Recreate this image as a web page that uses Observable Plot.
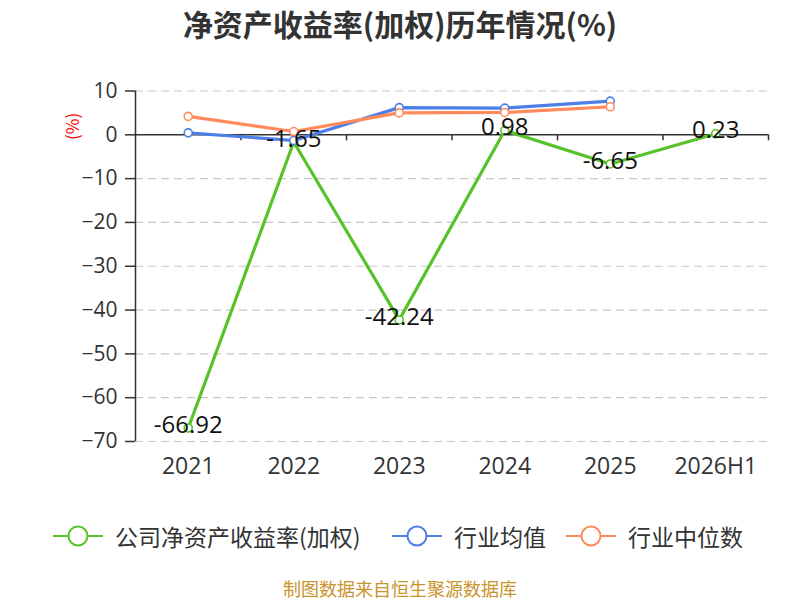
<!DOCTYPE html>
<html>
<head>
<meta charset="utf-8">
<script src="https://cdn.jsdelivr.net/npm/d3@7"></script>
<script src="https://cdn.jsdelivr.net/npm/@observablehq/plot@0.6"></script>
<style>
  body { margin: 0; background: #fff; font-family: "Open Sans", "Noto Sans CJK SC", sans-serif; }
  #wrap { position: relative; width: 800px; height: 600px; overflow: hidden; }
  #chart { position: absolute; left: 0; top: 0; }
  .title { position: absolute; left: 100px; width: 600px; top: 2px; line-height: 42px; text-align: center; font-size: 30px; font-weight: bold; color: #333; font-family: "Noto Sans CJK SC", sans-serif; }
  .unit { position: absolute; left: 59px; top: 114px; width: 26px; height: 26px; color: #f00; font-size: 17px; transform: rotate(-90deg); transform-origin: center; text-align: center; line-height: 26px; font-family: "Noto Sans CJK SC", sans-serif; }
  .leg { position: absolute; top: 521px; height: 30px; line-height: 30px; display: flex; align-items: center; font-size: 23px; color: #333; font-family: "Noto Sans CJK SC", sans-serif; white-space: nowrap; }
  .leg svg { margin-right: 12px; flex: none; }
  .src { position: absolute; left: 250px; width: 300px; top: 578px; height: 20px; line-height: 20px; text-align: center; font-size: 18px; color: #c8942c; font-family: "Noto Sans CJK SC", sans-serif; white-space: nowrap; }
</style>
</head>
<body>
<div id="wrap">
  <div id="chart"></div>
  <div class="title">净资产收益率(加权)历年情况(%)</div>
  <div class="unit">(%)</div>
  <div id="legend"></div>
  <div class="src">制图数据来自恒生聚源数据库</div>
</div>
<script>
const years = ["2021", "2022", "2023", "2024", "2025", "2026H1"];
const company = [-66.92, -1.65, -42.24, 0.98, -6.65, 0.23];
const industryAvg = [0.45, -1.3, 6.2, 6.1, 7.7, null];
const industryMedian = [4.2, 0.75, 5.0, 5.1, 6.4, null];
const seriesNames = ["公司净资产收益率(加权)", "行业均值", "行业中位数"];
const seriesColors = ["#58c22a", "#4d7fe6", "#ff8a5b"];
const yTicks = [10, 0, -10, -20, -30, -40, -50, -60, -70];

const allSeries = [company, industryAvg, industryMedian];
const rows = [];
allSeries.forEach((vals, s) => {
  vals.forEach((v, i) => { if (v != null) rows.push({ i, value: v, series: seriesNames[s] }); });
});
const companyRows = rows.filter(d => d.series === seriesNames[0]);
const boundaries = years.map((_, i) => i + 0.5);

const chart = Plot.plot({
  width: 800,
  height: 600,
  marginLeft: 135,
  marginRight: 32,
  marginTop: 90.5,
  marginBottom: 159,
  style: { fontFamily: "'Open Sans', 'Noto Sans CJK SC', sans-serif", background: "transparent", overflow: "visible" },
  x: { domain: [-0.5, years.length - 0.5] },
  y: { domain: [-70, 10] },
  color: { domain: seriesNames, range: seriesColors },
  marks: [
    Plot.gridY(yTicks.filter(t => t !== 0), { stroke: "#c8c8c8", strokeOpacity: 1, strokeDasharray: "8,5", strokeWidth: 1.2 }),
    Plot.axisY({ ticks: yTicks, tickSize: 10, tickPadding: 8, fontSize: 21, color: "#333", stroke: "#333", strokeWidth: 1.5, label: null }),
    Plot.axisX({ ticks: d3.range(years.length), tickFormat: i => years[i], tickSize: 0, tickPadding: 16, fontSize: 23, color: "#333", label: null }),
    Plot.ruleX([-0.5], { y1: -70, y2: 10, stroke: "#333", strokeWidth: 1.5 }),
    Plot.ruleY([0], { stroke: "#333", strokeWidth: 1.5 }),
    Plot.ruleX(boundaries, { x: d => d, y1: 0, y2: 0, insetBottom: -6, stroke: "#333", strokeWidth: 1.5 }),
    Plot.line(rows, { x: "i", y: "value", stroke: "series", z: "series", strokeWidth: 3.2 }),
    Plot.dot(rows, { x: "i", y: "value", stroke: "series", fill: "white", r: 4, strokeWidth: 1.6 }),
    Plot.text(companyRows, { x: "i", y: "value", text: d => d.value.toFixed(2), fontSize: 24, fill: "#111", dy: -3 })
  ]
});
document.getElementById("chart").appendChild(chart);

// legend
const legendLefts = [53, 392, 566];
const legend = document.getElementById("legend");
seriesNames.forEach((name, k) => {
  const div = document.createElement("div");
  div.className = "leg";
  div.style.left = legendLefts[k] + "px";
  const c = seriesColors[k];
  div.innerHTML = `<svg width="50" height="24"><line x1="0" y1="12" x2="50" y2="12" stroke="${c}" stroke-width="2"/><circle cx="25" cy="12" r="9.5" fill="white" stroke="${c}" stroke-width="2"/></svg><span>${name}</span>`;
  legend.appendChild(div);
});
</script>
</body>
</html>
